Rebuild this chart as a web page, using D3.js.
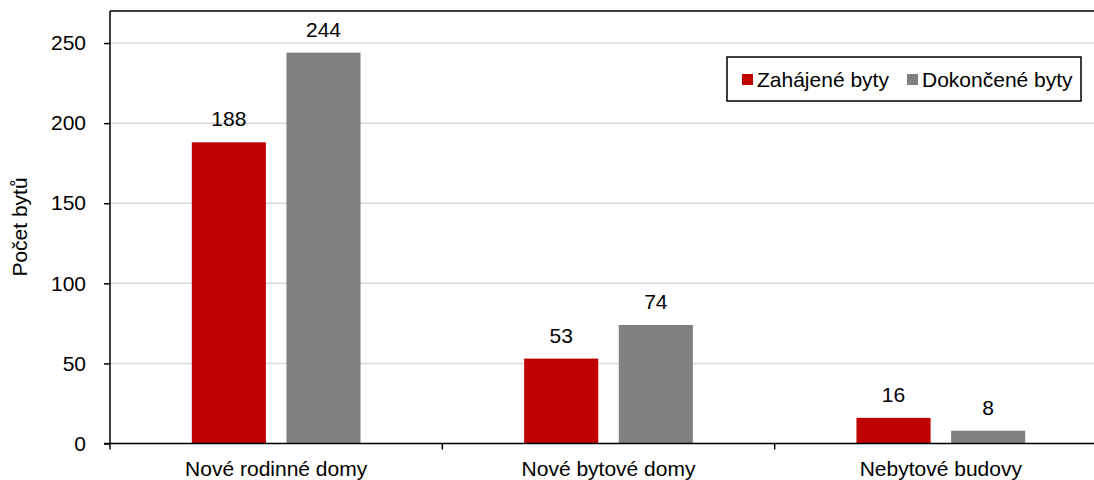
<!DOCTYPE html>
<html>
<head>
<meta charset="utf-8">
<script src="https://cdnjs.cloudflare.com/ajax/libs/d3/7.8.5/d3.min.js"></script>
<style>
body{margin:0;background:#fff;}
svg{display:block;font-family:"Liberation Sans",Arial,sans-serif;}
</style>
</head>
<body>
<div id="chart"></div>
<script>
var categories=["Nové rodinné domy","Nové bytové domy","Nebytové budovy"];
var seriesNames=["Zahájené byty","Dokončené byty"];
var zahajene=[188,53,16];
var dokoncene=[244,74,8];
var yTicks=[0,50,100,150,200,250];
var yTitle="Počet bytů";

var W=1094, H=480;
var pLeft=110, pRight=1107, pTop=11, pBottom=443.5;
var colors=['#c00000','#808080'];
var fontSize=21;

var svg=d3.select('#chart').append('svg')
	.attr('width',W)
	.attr('height',H);

var y=d3.scaleLinear().domain([0,270]).range([pBottom,pTop]);
var x0=d3.scaleBand().domain(categories).range([pLeft,pRight]);
var groupPad=81.8;
var x1=d3.scaleBand().domain(seriesNames)
	.range([groupPad,x0.bandwidth()-groupPad])
	.paddingInner(0.217);

// gridlines
svg.append('g').selectAll('line')
	.data(yTicks.filter(function(d){return d>0;}))
	.enter().append('line')
	.attr('x1',pLeft).attr('x2',W)
	.attr('y1',function(d){return y(d);})
	.attr('y2',function(d){return y(d);})
	.attr('stroke','#d9d9d9')
	.attr('stroke-width',1.5);

// top border
svg.append('line')
	.attr('x1',pLeft).attr('x2',W)
	.attr('y1',y(270)).attr('y2',y(270))
	.attr('stroke','#000').attr('stroke-width',1.5);

// bars
var rows=categories.map(function(c,i){
	return {cat:c,vals:[zahajene[i],dokoncene[i]]};
});
var groups=svg.append('g').selectAll('g')
	.data(rows)
	.enter().append('g')
	.attr('transform',function(d){return 'translate('+x0(d.cat)+',0)';});
groups.selectAll('rect')
	.data(function(d){return d.vals.map(function(v,j){return {name:seriesNames[j],v:v,j:j};});})
	.enter().append('rect')
	.attr('x',function(d){return x1(d.name);})
	.attr('width',x1.bandwidth())
	.attr('y',function(d){return y(d.v);})
	.attr('height',function(d){return pBottom-y(d.v);})
	.attr('fill',function(d){return colors[d.j];});
groups.selectAll('text')
	.data(function(d){return d.vals.map(function(v,j){return {name:seriesNames[j],v:v};});})
	.enter().append('text')
	.attr('x',function(d){return x1(d.name)+x1.bandwidth()/2;})
	.attr('y',function(d){return y(d.v)-16;})
	.attr('text-anchor','middle')
	.attr('font-size',fontSize)
	.attr('fill','#000')
	.text(function(d){return d.v;});

// y axis
var yAxis=d3.axisLeft(y).tickValues(yTicks).tickSize(6).tickPadding(18);
var yg=svg.append('g').attr('transform','translate('+pLeft+',0)').call(yAxis);
yg.select('.domain').attr('stroke','#000').attr('stroke-width',1.5)
	.attr('d','M0,'+pBottom+'V'+pTop);
yg.selectAll('.tick line').attr('stroke','#000').attr('stroke-width',1.5);
yg.selectAll('.tick text').attr('font-size',fontSize).attr('font-family','"Liberation Sans",Arial,sans-serif').attr('fill','#000');

// x axis
var xAxis=d3.axisBottom(x0).tickSize(0).tickPadding(0);
var xg=svg.append('g').attr('transform','translate(0,'+pBottom+')').call(xAxis);
xg.select('.domain').attr('stroke','#000').attr('stroke-width',1.5)
	.attr('d','M'+(pLeft-6)+',0H'+W);
xg.selectAll('.tick text').attr('font-size',fontSize).attr('font-family','"Liberation Sans",Arial,sans-serif')
	.attr('fill','#000').attr('dy',null).attr('y',32.5);
// separators between categories
xg.append('g').selectAll('line')
	.data(categories.concat(['end']))
	.enter().append('line')
	.attr('x1',function(d,i){return pLeft+i*x0.step();})
	.attr('x2',function(d,i){return pLeft+i*x0.step();})
	.attr('y1',0).attr('y2',6)
	.attr('stroke','#000').attr('stroke-width',1.5);

// y title
svg.append('text')
	.attr('transform','translate(27,227) rotate(-90)')
	.attr('text-anchor','middle')
	.attr('font-size',fontSize)
	.attr('fill','#000')
	.text(yTitle);

// legend
var lg=svg.append('g');
lg.append('rect')
	.attr('x',727).attr('y',57).attr('width',354).attr('height',44)
	.attr('fill','#fff').attr('stroke','#000').attr('stroke-width',1.5);
var legX=[742,907];
seriesNames.forEach(function(n,i){
	lg.append('rect')
		.attr('x',legX[i]).attr('y',74).attr('width',11).attr('height',11)
		.attr('fill',colors[i]);
	lg.append('text')
		.attr('x',legX[i]+15).attr('y',87)
		.attr('font-size',fontSize)
		.attr('fill','#000')
		.text(n);
});
</script>
</body>
</html>
